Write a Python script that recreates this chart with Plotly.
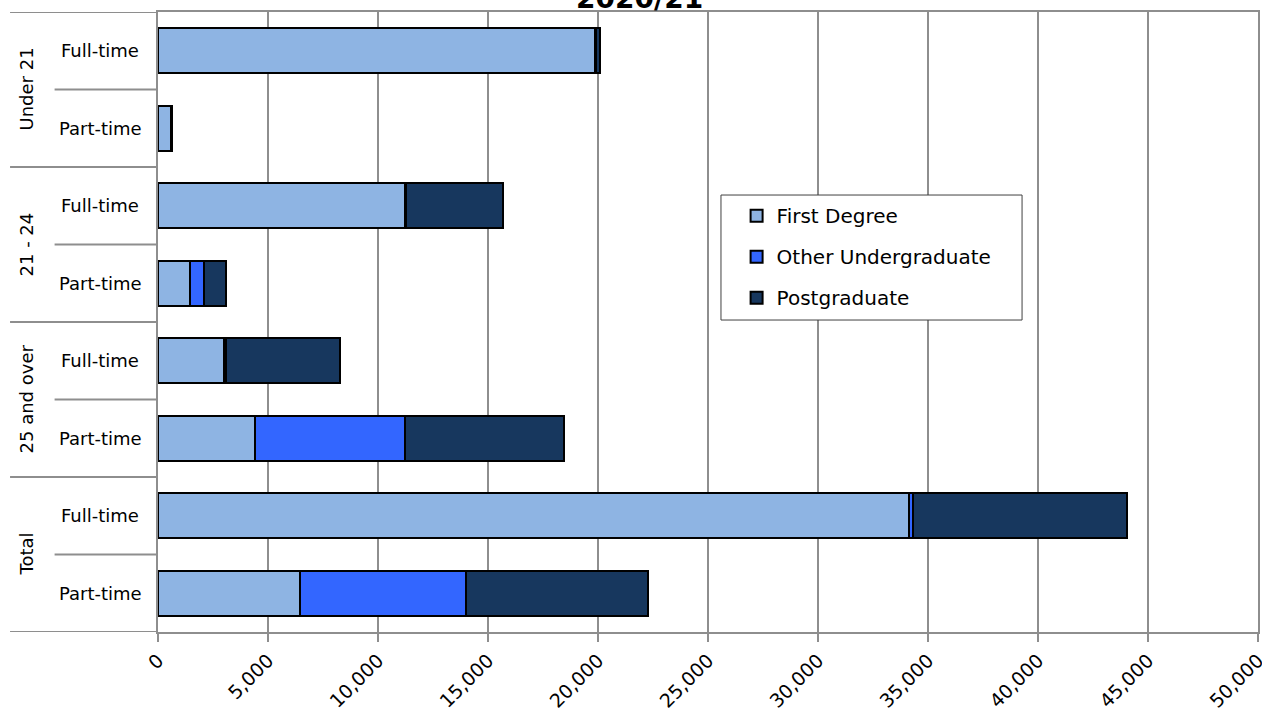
import plotly.graph_objects as go

# Age groups and modes of study, top to bottom
age_groups = ["Under 21", "21 - 24", "25 and over", "Total"]
modes = ["Full-time", "Part-time"]

# Student numbers per row (Under 21 FT, Under 21 PT, 21-24 FT, 21-24 PT,
# 25+ FT, 25+ PT, Total FT, Total PT)
first_degree = [19870, 580, 11230, 1460, 3020, 4420, 34130, 6460]
other_undergraduate = [60, 20, 60, 640, 60, 6790, 180, 7530]
postgraduate = [160, 30, 4400, 990, 5170, 7260, 9720, 8260]

series_names = ["First Degree", "Other Undergraduate", "Postgraduate"]
series_colors = ["#8EB4E3", "#3366FF", "#17375E"]

x_ticks = list(range(0, 50001, 5000))

row_keys = [f"{g}|{m}" for g in age_groups for m in modes]
row_labels = [m for g in age_groups for m in modes]

GRID = "#8E8E8E"
FONT = "DejaVu Sans"

fig = go.Figure()
for name, vals, color in zip(series_names,
                             [first_degree, other_undergraduate, postgraduate],
                             series_colors):
    fig.add_trace(go.Bar(
        y=row_keys, x=vals, name=name, orientation="h",
        marker=dict(color=color, line=dict(color="black", width=2)),
        legendgroup=name,
    ))

# Row labels and group labels on the left
annotations = []
for i, lab in enumerate(row_labels):
    annotations.append(dict(
        x=0, xref="paper", y=i, yref="y", text=lab, showarrow=False,
        xanchor="center", xshift=-58, font=dict(family=FONT, size=18, color="black"),
    ))
for j, g in enumerate(age_groups):
    annotations.append(dict(
        x=0, xref="paper", y=2 * j + 0.5, yref="y", text=g, showarrow=False,
        xanchor="center", yanchor="middle", xshift=-132, textangle=-90,
        font=dict(family=FONT, size=18, color="black"),
    ))
# Title, partly above the page edge
annotations.append(dict(
    x=0.438, xref="paper", y=1, yref="paper", text="<b>2020/21</b>", showarrow=False,
    xanchor="center", yanchor="middle", yshift=14,
    font=dict(family=FONT, size=28, color="black"),
))

# Divider lines in the label area
shapes = []
for b in [-0.5, 1.5, 3.5, 5.5, 7.5]:
    shapes.append(dict(type="line", xref="paper", yref="y", x0=-0.1345, x1=0,
                       y0=b, y1=b, line=dict(color=GRID, width=2)))
for b in [0.5, 2.5, 4.5, 6.5]:
    shapes.append(dict(type="line", xref="paper", yref="y", x0=-0.094, x1=0,
                       y0=b, y1=b, line=dict(color=GRID, width=2)))
# Legend frame
shapes.append(dict(type="rect", xref="paper", yref="paper",
                   x0=0.5118, x1=0.7855, y0=0.5032, y1=0.7048,
                   fillcolor="white", line=dict(color="#404040", width=1),
                   layer="above"))

fig.update_layout(
    width=1262, height=713,
    margin=dict(l=158, r=4, t=12, b=81, autoexpand=False),
    paper_bgcolor="white", plot_bgcolor="white",
    barmode="stack", bargap=0.42,
    font=dict(family=FONT, size=17, color="black"),
    showlegend=True,
    legend=dict(
        x=0.526, y=0.703, xanchor="left", yanchor="top",
        bgcolor="rgba(0,0,0,0)", borderwidth=0,
        traceorder="grouped", tracegroupgap=12,
        font=dict(family=FONT, size=20, color="black"),
    ),
    xaxis=dict(
        range=[0, 50000], tickvals=x_ticks, tickformat=",d",
        tickangle=-45, tickfont=dict(family=FONT, size=19, color="black"),
        ticklabeloverflow="allow", automargin=False,
        showgrid=True, gridcolor=GRID, gridwidth=2,
        showline=True, linecolor=GRID, linewidth=2, mirror=True,
        ticks="outside", ticklen=8, tickcolor=GRID, tickwidth=2,
        zeroline=False,
    ),
    yaxis=dict(
        type="category", categoryorder="array", categoryarray=row_keys,
        range=[7.5, -0.5], showticklabels=False, ticks="", automargin=False,
        showgrid=False, showline=True, linecolor=GRID, linewidth=2, mirror=True,
        zeroline=False,
    ),
    annotations=annotations,
    shapes=shapes,
)

fig.write_html("out.html")
